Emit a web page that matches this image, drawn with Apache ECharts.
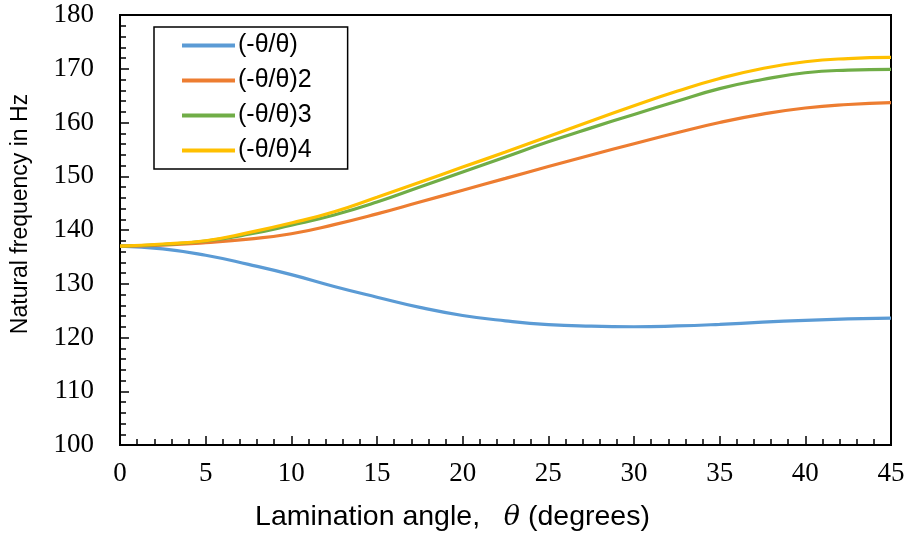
<!DOCTYPE html>
<html>
<head>
<meta charset="utf-8">
<script src="https://cdn.jsdelivr.net/npm/echarts@6/dist/echarts.min.js"></script>
<style>
  html, body { margin: 0; padding: 0; background: #fff; }
  #chart { width: 910px; height: 540px; }
</style>
</head>
<body>
<div id="chart"></div>
<script>
// lamination angle (degrees)
const angles = [0, 2.5, 5, 7.5, 10, 12.5, 15, 17.5, 20, 22.5, 25, 27.5, 30, 32.5, 35, 37.5, 40, 42.5, 45];
// natural frequency (Hz)
const freq1 = [137.0, 136.5, 135.3, 133.6, 131.7, 129.5, 127.5, 125.6, 124.1, 123.1, 122.4, 122.1, 122.0, 122.15, 122.45, 122.85, 123.2, 123.45, 123.6];
const freq2 = [137.0, 137.2, 137.65, 138.3, 139.3, 141.0, 143.0, 145.2, 147.4, 149.6, 151.8, 153.95, 156.05, 158.1, 160.0, 161.55, 162.7, 163.35, 163.7];
const freq3 = [137.0, 137.3, 137.95, 139.2, 140.9, 142.8, 145.2, 148.0, 150.8, 153.6, 156.4, 159.0, 161.5, 163.95, 166.3, 168.0, 169.25, 169.75, 169.9];
const freq4 = [137.0, 137.4, 138.0, 139.5, 141.3, 143.4, 146.1, 148.9, 151.7, 154.5, 157.4, 160.3, 163.1, 165.8, 168.2, 170.05, 171.3, 171.9, 172.1];
const names = ['(-θ/θ)', '(-θ/θ)2', '(-θ/θ)3', '(-θ/θ)4'];
const colors = ['#5B9BD5', '#ED7D31', '#70AD47', '#FFC000'];

const pairs = (ys) => angles.map((x, i) => [x, ys[i]]);

const chart = echarts.init(document.getElementById('chart'));
chart.setOption({
  animation: false,
  color: colors,
  grid: {
    left: 120,
    right: 19,
    top: 15,
    bottom: 95,
    show: true,
    borderColor: '#000',
    borderWidth: 2,
  },
  legend: {
    orient: 'vertical',
    left: 154,
    top: 27,
    icon: 'rect',
    itemWidth: 53,
    itemHeight: 4,
    itemGap: 10,
    padding: [6, 36, 6, 28],
    borderColor: '#000',
    borderWidth: 1.5,
    textStyle: {
      fontFamily: 'Liberation Sans',
      fontSize: 25,
      lineHeight: 22,
      color: '#000',
      padding: [0, 0, 0, -2],
    },
    data: names,
  },
  xAxis: {
    type: 'value',
    min: 0,
    max: 45,
    interval: 5,
    splitLine: { show: false },
    axisLine: { lineStyle: { color: '#000', width: 2 } },
    axisTick: { inside: true, length: 9, lineStyle: { color: '#000', width: 1.5 } },
    minorTick: { show: true, splitNumber: 5, length: 6, lineStyle: { color: '#000', width: 1.5 } },
    axisLabel: {
      margin: 15,
      fontFamily: 'Liberation Serif',
      fontSize: 27,
      color: '#000',
    },
    name: 'Lamination angle,   {i|θ} (degrees)',
    nameLocation: 'middle',
    nameGap: 58,
    nameTextStyle: {
      fontFamily: 'Liberation Sans',
      fontSize: 28.5,
      color: '#000',
      padding: [0, 106, 0, 0],
      rich: {
        i: { fontFamily: 'DejaVu Serif', fontStyle: 'italic', fontSize: 27, color: '#000' },
      },
    },
  },
  yAxis: {
    type: 'value',
    min: 100,
    max: 180,
    interval: 10,
    splitLine: { show: false },
    axisLine: { show: true, lineStyle: { color: '#000', width: 2 } },
    axisTick: { show: true, inside: true, length: 9, lineStyle: { color: '#000', width: 1.5 } },
    minorTick: { show: true, splitNumber: 5, length: 6, lineStyle: { color: '#000', width: 1.5 } },
    axisLabel: {
      margin: 26,
      fontFamily: 'Liberation Serif',
      fontSize: 27,
      color: '#000',
    },
    name: 'Natural frequency in Hz',
    nameLocation: 'middle',
    nameGap: 88,
    nameTextStyle: {
      fontFamily: 'Liberation Sans',
      fontSize: 23,
      color: '#000',
      padding: [0, 0, 0, 32],
    },
  },
  series: [freq1, freq2, freq3, freq4].map((ys, i) => ({
    name: names[i],
    type: 'line',
    smooth: 0.5,
    symbol: 'none',
    data: pairs(ys),
    lineStyle: { width: 3.2, color: colors[i] },
    itemStyle: { color: colors[i] },
  })),
});
</script>
</body>
</html>
